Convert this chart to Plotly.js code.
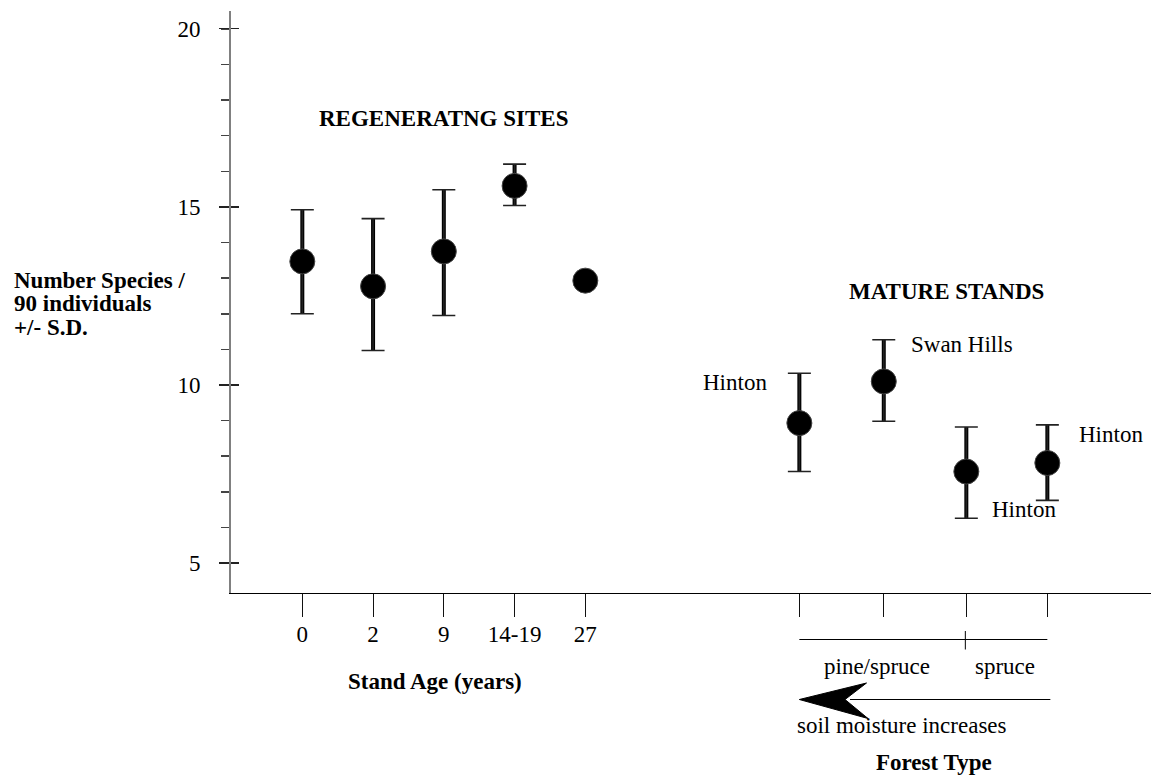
<!DOCTYPE html>
<html><head><meta charset="utf-8">
<script src="https://cdn.plot.ly/plotly-3.0.1.min.js"></script>
<style>html,body{margin:0;padding:0;background:#fff}#chart{width:1151px;height:777px}</style>
</head><body><div id="chart"></div>
<script>
// ---- data ----
const ageLabels = ['0', '2', '9', '14-19', '27'];
const regenMean = [13.47, 12.77, 13.75, 15.59, 12.93];
const regenSdUp = [1.45, 1.90, 1.73, 0.61, null];
const regenSdDown = [1.47, 1.80, 1.80, 0.55, null];
const matureSites = ['Hinton', 'Swan Hills', 'Hinton', 'Hinton'];
const matureMean = [8.93, 10.10, 7.57, 7.81];
const matureSdUp = [1.40, 1.17, 1.25, 1.07];
const matureSdDown = [1.36, 1.12, 1.31, 1.05];
const forestTypes = ['pine/spruce', 'spruce'];
const yTickVals = [5, 10, 15, 20];

// ---- layout constants ----
const ageSlots = [0, 1, 2, 3, 4];
const matureSlots = [7.025, 8.218, 9.385, 10.53];
const X_RANGE = [-1.008, 11.995];
const Y_RANGE = [4.16, 20.5];
const W = 1151, H = 777;
const M = {l: 231, r: 0, t: 11, b: 184};
const PW = W - M.l - M.r, PH = H - M.t - M.b;
const FONT = 'Liberation Serif, Times New Roman, serif';
const FS = 23;
const px2x = px => (px - M.l) / PW;
const py2y = py => (M.t + PH - py) / PH;
const d2px = xd => M.l + (xd - X_RANGE[0]) / (X_RANGE[1] - X_RANGE[0]) * PW;

const allSlots = ageSlots.concat(matureSlots);
const allMean = regenMean.concat(matureMean);
const allUp = regenSdUp.concat(matureSdUp);
const allDown = regenSdDown.concat(matureSdDown);

const thickBars = {
  x: allSlots, y: allMean, type: 'scatter', mode: 'markers',
  marker: {size: 1, opacity: 0}, hoverinfo: 'skip', showlegend: false,
  error_y: {type: 'data', symmetric: false, array: allUp, arrayminus: allDown,
            thickness: 4, width: 0, color: '#000'}
};
const capsAndPoints = {
  x: allSlots, y: allMean, type: 'scatter', mode: 'markers', showlegend: false,
  marker: {size: 25, color: '#000', line: {color: '#444', width: 1}},
  error_y: {type: 'data', symmetric: false, array: allUp, arrayminus: allDown,
            thickness: 1.6, width: 11.5, color: '#222'}
};
const innerTickHelper = {
  x: [0], y: [10], type: 'scatter', mode: 'markers', yaxis: 'y2',
  marker: {size: 1, opacity: 0}, hoverinfo: 'skip', showlegend: false
};

const siteOffsets = [[-64, 41], [78, 37], [58, -38], [64, 28]];
const annotations = [];
matureSites.forEach((s, i) => {
  annotations.push({x: matureSlots[i], y: matureMean[i], xref: 'x', yref: 'y', text: s,
    showarrow: false, xshift: siteOffsets[i][0], yshift: siteOffsets[i][1],
    xanchor: 'center', yanchor: 'middle', font: {family: FONT, size: FS, color: '#000'}});
});
function txt(text, px, py, bold, anchor) {
  annotations.push({x: px2x(px), y: py2y(py), xref: 'paper', yref: 'paper',
    text: bold ? '<b>' + text + '</b>' : text, showarrow: false,
    xanchor: anchor || 'center', yanchor: 'middle',
    font: {family: FONT, size: FS, color: '#000'}});
}
txt('REGENERATNG SITES', 443, 118, true);
txt('MATURE STANDS', 946, 291, true);
txt('Number Species /', 12, 280, true, 'left');
txt('90 individuals', 12, 303, true, 'left');
txt('+/- S.D.', 12, 327, true, 'left');
txt('Stand Age (years)', 435, 682, true);
txt(forestTypes[0], 877, 666, false);
txt(forestTypes[1], 1005, 666, false);
txt('soil moisture increases', 902, 725, false);
txt('Forest Type', 934, 762, true);

// bracket & arrow (decorations below the axis)
const bx0 = d2px(matureSlots[0]), bx1 = d2px(matureSlots[3]), bxm = d2px(matureSlots[2]) - 1;
const shapes = [
  {type: 'line', xref: 'paper', yref: 'paper', x0: px2x(bx0), x1: px2x(bx1), y0: py2y(639.5), y1: py2y(639.5),
   line: {color: '#000', width: 1}},
  {type: 'line', xref: 'paper', yref: 'paper', x0: px2x(bxm), x1: px2x(bxm), y0: py2y(631), y1: py2y(649.5),
   line: {color: '#000', width: 1}},
  {type: 'line', xref: 'paper', yref: 'paper', x0: px2x(bx1 + 3), x1: px2x(850), y0: py2y(699.5), y1: py2y(699.5),
   line: {color: '#000', width: 1}},
  {type: 'path', xref: 'paper', yref: 'paper',
   path: 'M ' + px2x(bx0) + ' ' + py2y(699.5) +
         ' L ' + px2x(866.5) + ' ' + py2y(683) +
         ' L ' + px2x(845) + ' ' + py2y(699.5) +
         ' L ' + px2x(868) + ' ' + py2y(718.5) + ' Z',
   fillcolor: '#000', line: {color: '#000', width: 1}}
];

const layout = {
  width: W, height: H, margin: M, paper_bgcolor: '#fff', plot_bgcolor: '#fff',
  showlegend: false, font: {family: FONT, size: FS, color: '#000'},
  xaxis: {range: X_RANGE, showgrid: false, zeroline: false, showline: true,
          linecolor: '#000', linewidth: 1.3, ticks: 'outside', ticklen: 23, tickwidth: 1,
          tickcolor: '#111', tickvals: allSlots,
          ticktext: ageLabels.concat(matureSlots.map(() => '')),
          tickfont: {family: FONT, size: FS, color: '#000'}, ticklabelstandoff: -3},
  yaxis: {range: Y_RANGE, showgrid: false, zeroline: false, showline: true,
          linecolor: '#808080', linewidth: 2, ticks: 'outside', ticklen: 10, tickwidth: 1.3,
          tickcolor: '#222', tickvals: yTickVals,
          tickfont: {family: FONT, size: FS, color: '#000'}, ticklabelstandoff: 14,
          minor: {dtick: 1, tick0: 0, ticks: 'outside', ticklen: 8, tickwidth: 1.5, tickcolor: '#444'}},
  yaxis2: {range: Y_RANGE, overlaying: 'y', side: 'left', showgrid: false, zeroline: false,
           showline: false, ticks: 'inside', ticklen: 8, tickwidth: 1.3, tickcolor: '#222',
           tickvals: yTickVals, showticklabels: false},
  annotations: annotations, shapes: shapes
};
Plotly.newPlot('chart', [thickBars, capsAndPoints, innerTickHelper], layout, {displayModeBar: false, staticPlot: true});
</script></body></html>
